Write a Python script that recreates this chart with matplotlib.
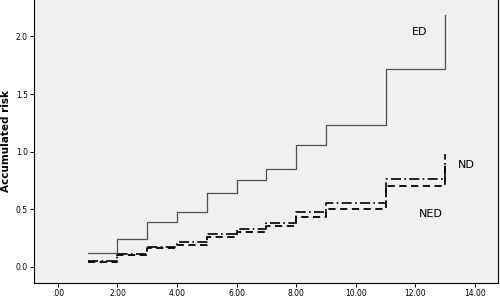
import matplotlib
matplotlib.use("Agg")
import matplotlib.pyplot as plt

times = [1, 2, 3, 4, 5, 6, 7, 8, 9, 11, 13]
ed = [0.117, 0.245, 0.39, 0.48, 0.645, 0.755, 0.846, 1.06, 1.23, 1.715, 2.19]
nd = [0.05, 0.11, 0.175, 0.215, 0.285, 0.33, 0.38, 0.48, 0.55, 0.765, 0.98]
ned = [0.045, 0.10, 0.16, 0.19, 0.256, 0.305, 0.35, 0.435, 0.505, 0.70, 0.90]

xticks = [0, 2, 4, 6, 8, 10, 12, 14]
xticklabels = [".00", "2.00", "4.00", "6.00", "8.00", "10.00", "12.00", "14.00"]
yticks = [0.0, 0.5, 1.0, 1.5, 2.0]
yticklabels = ["0.0", "0.5", "1.0", "1.5", "2.0"]

fig = plt.figure(figsize=(5, 3), dpi=100)
ax = fig.add_axes([0.068, 0.058, 0.928, 0.942])
ax.set_facecolor("#f0f0f0")

ax.step(times, ed, where="post", color="#505050", lw=0.9)
ax.step(times, nd, where="post", color="black", lw=1.2, dashes=(6, 2, 1, 2))
ax.step(times, ned, where="post", color="black", lw=1.3, dashes=(4, 2.5))

ax.text(12.15, 2.04, "ED", fontsize=8, ha="center", va="center")
ax.text(13.7, 0.88, "ND", fontsize=8, ha="center", va="center")
ax.text(12.5, 0.46, "NED", fontsize=8, ha="center", va="center")

ax.set_xlim(-0.8, 14.77)
ax.set_ylim(-0.137, 2.316)
ax.set_xticks(xticks)
ax.set_xticklabels(xticklabels, fontsize=5.5)
ax.set_yticks(yticks)
ax.set_yticklabels(yticklabels, fontsize=5.5)
ax.tick_params(length=3, width=0.7, pad=1.5)
ax.set_ylabel("Accumulated risk", fontsize=7.5, fontweight="bold", labelpad=3)
for s in ax.spines.values():
    s.set_linewidth(0.8)
ax.spines["top"].set_visible(False)

fig.savefig("out.png", dpi=100)
